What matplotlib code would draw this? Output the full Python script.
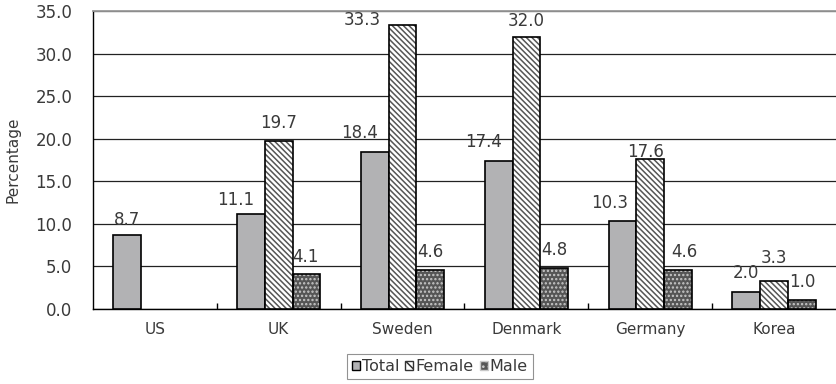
import numpy as np
import matplotlib.pyplot as plt
from matplotlib.patches import Patch

plt.rcParams['font.family'] = ['DejaVu Sans']
plt.rcParams['hatch.linewidth'] = 1.1

# percentage by country and sex
countries = ['US', 'UK', 'Sweden', 'Denmark', 'Germany', 'Korea']
total = [8.7, 11.1, 18.4, 17.4, 10.3, 2.0]
female = [np.nan, 19.7, 33.3, 32.0, 17.6, 3.3]
male = [np.nan, 4.1, 4.6, 4.8, 4.6, 1.0]

# hand-placed label nudges (pixels) for each series
total_nudge = [(0, 10), (-15, 9), (-15, 14), (-15, 14), (-13, 13), (0, 14)]
female_nudge = [(0, 0), (0, 13), (-40, 0), (0, 11), (-5, 2), (0, 18)]
male_nudge = [(0, 0), (-1, 12), (0, 13), (0, 13), (6, 13), (0, 13)]

fig = plt.figure(figsize=(8.36, 3.84), dpi=100)
ax = fig.add_axes([0.1112, 0.1953, 0.8888, 0.7761])

x = np.arange(len(countries))
w = 0.224
txt = '#3a3a3a'
gray = '#b2b2b4'
dark = '#555555'

# total: plain gray
ax.bar(x - w, total, w, color=gray, edgecolor='black', linewidth=1.2, zorder=3)

# female: white with diagonal stripes
ax.bar(x, female, w, color='white', edgecolor='#555555', hatch='\\\\\\\\\\\\', linewidth=0, zorder=3)
ax.bar(x, female, w, color='none', edgecolor='black', linewidth=1.2, zorder=4)

# male: dark fill with light dots
ax.bar(x + w, male, w, color=dark, edgecolor='#c8c8c8', hatch='....', linewidth=0, zorder=3)
ax.bar(x + w, male, w, color='none', edgecolor='black', linewidth=1.2, zorder=4)

# value labels above bars
for off, vals, nudge in [(-w, total, total_nudge), (0, female, female_nudge), (w, male, male_nudge)]:
    for xi, v, (dx, dy) in zip(x, vals, nudge):
        if np.isnan(v):
            continue
        ax.annotate(f'{v:.1f}', (xi + off, v), xytext=(dx, dy), textcoords='offset pixels',
                    ha='center', va='baseline', fontsize=12, color=txt, zorder=5)

ax.set_xlim(-0.5, len(countries) - 0.5)
ax.set_ylim(0, 35)
yt = np.arange(0, 36, 5)
ax.set_yticks(yt)
ax.set_yticklabels([f'{t:.1f}' for t in yt], fontsize=12, color=txt)
ax.set_xticks(x)
ax.set_xticklabels(countries, fontsize=11, color=txt)
ax.tick_params(axis='x', length=0, pad=9)
ax.tick_params(axis='y', length=0, pad=15)
ax.set_xticks(np.arange(0.5, len(countries) - 1, 1), minor=True)
ax.tick_params(axis='x', which='minor', direction='in', length=4, width=1)

ax.yaxis.grid(True, color='#222222', linewidth=0.9, zorder=0)
ax.set_axisbelow(True)
ax.spines['top'].set_color('#999999')
ax.spines['top'].set_linewidth(1.3)
ax.spines['right'].set_visible(False)
ax.spines['left'].set_linewidth(1.0)
ax.spines['bottom'].set_linewidth(1.0)

ax.set_ylabel('Percentage', fontsize=11, color=txt)
ax.yaxis.set_label_coords(-0.098, 0.5)

handles = [Patch(facecolor=gray, edgecolor='black'),
           Patch(facecolor='white', edgecolor='#333333', hatch='\\\\\\'),
           Patch(facecolor=dark, edgecolor='#c8c8c8', hatch='...')]
leg = fig.legend(handles, ['Total', 'Female', 'Male'], loc='upper center',
                 bbox_to_anchor=(0.526, 0.078), ncol=3, fontsize=11.5, frameon=True,
                 fancybox=False, edgecolor='#777777', handlelength=0.5, handleheight=0.5,
                 handletextpad=0.12, columnspacing=0.4, borderpad=0.3, borderaxespad=0)
leg.get_frame().set_linewidth(0.8)
for t in leg.get_texts():
    t.set_color(txt)

fig.savefig('out.png', dpi=100)
